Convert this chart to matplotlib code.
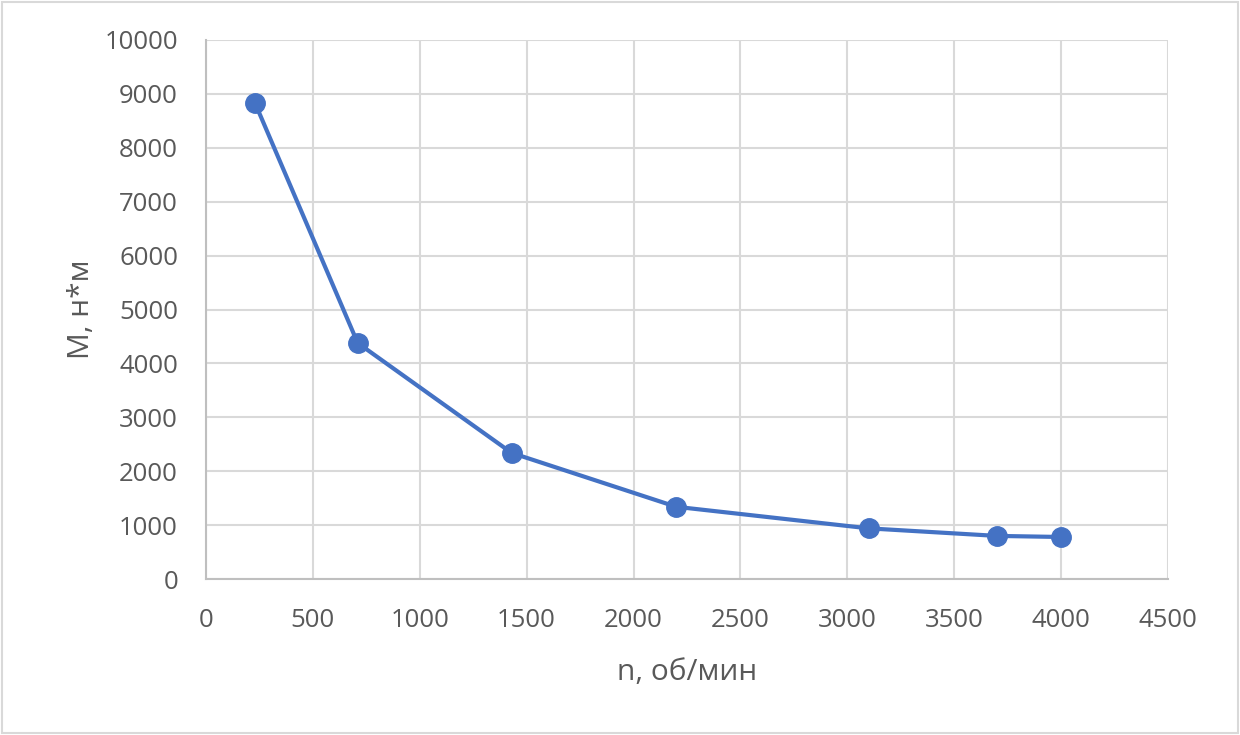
import matplotlib
matplotlib.use("Agg")
import matplotlib.pyplot as plt
from matplotlib.patches import Rectangle

# данные: частота вращения и момент
n_rpm = [230, 710, 1430, 2200, 3100, 3700, 4000]
moment = [8830, 4380, 2340, 1340, 940, 800, 780]

x_ticks = [0, 500, 1000, 1500, 2000, 2500, 3000, 3500, 4000, 4500]
y_ticks = [0, 1000, 2000, 3000, 4000, 5000, 6000, 7000, 8000, 9000, 10000]

plt.rcParams['font.family'] = ['Open Sans', 'DejaVu Sans']

fig = plt.figure(figsize=(12.4, 7.35), dpi=100)
ax = fig.add_axes([0.166, 0.2122, 0.776, 0.7334])

ax.plot(n_rpm, moment, color='#4472C4', linewidth=3, marker='o',
        markersize=14, zorder=3)

ax.set_xlim(0, 4500)
ax.set_ylim(0, 10000)
ax.set_xticks(x_ticks)
ax.set_yticks(y_ticks)
ax.grid(True, color='#D9D9D9', linewidth=1.5)
ax.set_axisbelow(True)

for s in ['top', 'right']:
    ax.spines[s].set_visible(False)
for s in ['left', 'bottom']:
    ax.spines[s].set_color('#BFBFBF')
    ax.spines[s].set_linewidth(1.5)

ax.tick_params(length=0, labelsize=18.5, labelcolor='#595959')
ax.tick_params(axis='x', pad=21)
ax.tick_params(axis='y', pad=20)
ax.set_xlabel('n, об/мин', fontsize=21.5, color='#595959', labelpad=18)
ax.set_ylabel('M, н*м', fontsize=21.5, color='#595959', labelpad=6)

fig.patches.append(Rectangle((0.002, 0.003), 0.996, 0.994, transform=fig.transFigure,
                             fill=False, edgecolor='#D9D9D9', linewidth=1.5))

fig.savefig('out.png', dpi=100)
